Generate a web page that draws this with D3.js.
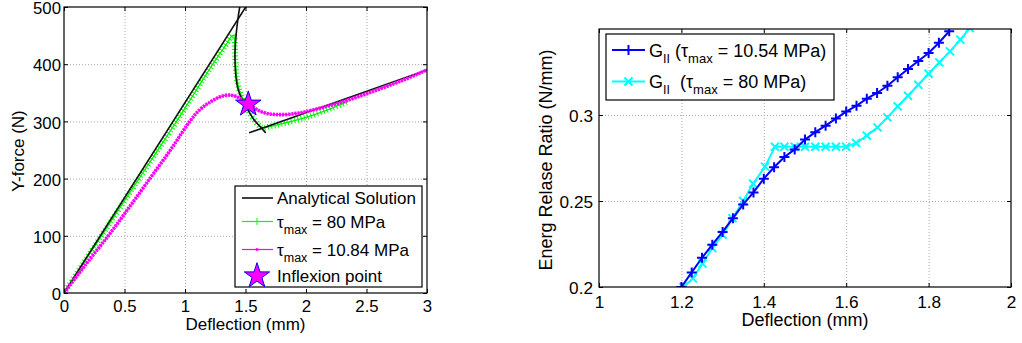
<!DOCTYPE html>
<html>
<head>
<meta charset="utf-8">
<script src="https://cdn.jsdelivr.net/npm/d3@7"></script>
<style>
  body { margin: 0; background: #fff; }
  svg { font-family: "Liberation Sans", Arial, Helvetica, sans-serif; }
  .grid line { stroke: #a8a8a8; stroke-dasharray: 1 2; }
  .grid path { display: none; }
  .ax path { display: none; }
  .ax line { stroke: #000; }
  .ax text { fill: #000; }
</style>
</head>
<body>
<svg width="1022" height="343"></svg>
<script>
// ---- left panel data: force vs deflection ----
const anaLinX = [0, 1.52];
const anaLinY = [0, 506];
const anaCurveX = [1.47, 1.452, 1.432, 1.418, 1.413, 1.414, 1.42, 1.432, 1.452, 1.48, 1.52, 1.57, 1.62, 1.667];
const anaCurveY = [520, 500, 470, 440, 420, 400, 380, 362, 348, 335, 320, 303, 291, 280];
const anaTailX = [1.53, 3.0];
const anaTailY = [280, 390];

const greenX = [0, 0.31, 0.62, 0.93, 1.23, 1.32, 1.40, 1.413, 1.427, 1.449, 1.482, 1.537, 1.606, 1.645, 1.7, 1.8, 2.0, 2.2, 2.35];
const greenY = [0, 100, 200, 300, 400, 428, 451, 419, 378, 355, 337, 314, 294, 289, 291, 296, 307, 322, 335];

const magX = [0, 0.18, 0.366, 0.54, 0.71, 0.88, 1.04, 1.12, 1.21, 1.29, 1.372, 1.45, 1.523, 1.6, 1.675, 1.76, 1.84, 1.92, 2.0, 2.2, 2.4, 2.6, 2.8, 3.0];
const magY = [0, 50, 100, 150, 200, 250, 300, 320, 334, 343, 346, 341, 331, 320, 314, 312, 312, 314, 317, 328, 341, 356, 372, 390];

const inflexion = [1.523, 330];

const leftXTicks = [0, 0.5, 1, 1.5, 2, 2.5, 3];
const leftYTicks = [0, 100, 200, 300, 400, 500];

// ---- right panel data: energy release ratio ----
const blueX = [1.2, 1.225, 1.25, 1.275, 1.3, 1.325, 1.35, 1.375, 1.4, 1.425, 1.45, 1.475, 1.5, 1.525, 1.55, 1.575, 1.6, 1.625, 1.65, 1.675, 1.7, 1.725, 1.75, 1.775, 1.8, 1.825, 1.85];
const blueY = [0.2, 0.2085, 0.217, 0.2246, 0.232, 0.240, 0.248, 0.255, 0.263, 0.2696, 0.2756, 0.280, 0.2857, 0.290, 0.2938, 0.2979, 0.302, 0.3054, 0.3095, 0.3128, 0.317, 0.322, 0.3267, 0.3314, 0.336, 0.342, 0.3487];

const cyanX = [1.205, 1.228, 1.251, 1.275, 1.3, 1.324, 1.35, 1.374, 1.403, 1.427, 1.45, 1.475, 1.5, 1.525, 1.55, 1.575, 1.6, 1.624, 1.65, 1.676, 1.7, 1.725, 1.75, 1.775, 1.8, 1.826, 1.852, 1.877, 1.9];
const cyanY = [0.2, 0.205, 0.2136, 0.2227, 0.2304, 0.240, 0.250, 0.26, 0.270, 0.2815, 0.2815, 0.2815, 0.2815, 0.2815, 0.2815, 0.2815, 0.2815, 0.2837, 0.288, 0.2928, 0.2986, 0.305, 0.3112, 0.3176, 0.324, 0.3306, 0.337, 0.3438, 0.3505];

const rightXTicks = [1, 1.2, 1.4, 1.6, 1.8, 2];
const rightYTicks = [0.2, 0.25, 0.3];

const svg = d3.select('svg');
const zip = (xs, ys) => xs.map((v, i) => [v, ys[i]]);
const fmt = d3.format('~g');

// grid + clip region for a panel
function panel(id, box, xDom, yDom, xTicks, yTicks, opts) {
  const x = d3.scaleLinear().domain(xDom).range([box.l, box.r]);
  const y = d3.scaleLinear().domain(yDom).range([box.b, box.t]);
  const w = box.r - box.l, h = box.b - box.t;

  svg.append('clipPath').attr('id', id)
    .append('rect').attr('x', box.l).attr('y', box.t).attr('width', w).attr('height', h);

  svg.append('g').attr('class', 'grid').attr('transform', `translate(0,${box.b})`)
    .call(d3.axisBottom(x).tickValues(xTicks.slice(1, -1)).tickSize(-h).tickFormat(''));
  svg.append('g').attr('class', 'grid').attr('transform', `translate(${box.l},0)`)
    .call(d3.axisLeft(y).tickValues(yTicks.filter(v => v > yDom[0] && v < yDom[1])).tickSize(-w).tickFormat(''));

  const g = svg.append('g').attr('clip-path', `url(#${id})`);
  return Object.assign({ x, y, g, box, xTicks, yTicks }, opts);
}

// box with inward ticks on all four sides (MATLAB look)
function frame(p) {
  const { x, y, box, xTicks, yTicks } = p;
  svg.append('g').attr('class', 'ax').attr('transform', `translate(0,${box.b})`)
    .call(d3.axisBottom(x).tickValues(xTicks).tickSizeInner(-4).tickSizeOuter(0).tickPadding(6).tickFormat(fmt))
    .selectAll('text').attr('font-size', p.tickFont).attr('dy', p.xDy);
  svg.append('g').attr('class', 'ax').attr('transform', `translate(0,${box.t})`)
    .call(d3.axisTop(x).tickValues(xTicks).tickSizeInner(-4).tickSizeOuter(0).tickFormat(''));
  svg.append('g').attr('class', 'ax').attr('transform', `translate(${box.l},0)`)
    .call(d3.axisLeft(y).tickValues(yTicks).tickSizeInner(-4).tickSizeOuter(0).tickPadding(p.yPad).tickFormat(fmt))
    .selectAll('text').attr('font-size', p.tickFont).attr('dy', '0.4em');
  svg.append('g').attr('class', 'ax').attr('transform', `translate(${box.r},0)`)
    .call(d3.axisRight(y).tickValues(yTicks).tickSizeInner(-4).tickSizeOuter(0).tickFormat(''));
  svg.append('rect').attr('x', box.l).attr('y', box.t)
    .attr('width', box.r - box.l).attr('height', box.b - box.t)
    .attr('fill', 'none').attr('stroke', '#000').attr('stroke-width', 1.2);
}

// ================= left panel =================
const L = panel('clipL', { l: 64, r: 427, t: 7, b: 293 }, [0, 3], [0, 500],
  leftXTicks, leftYTicks, { tickFont: 16.8, xDy: 12.5, yPad: 3 });

const lineL = d3.line().x(d => L.x(d[0])).y(d => L.y(d[1]));
const curvL = d3.line().x(d => L.x(d[0])).y(d => L.y(d[1])).curve(d3.curveCatmullRom.alpha(0.5));

// green tau_max = 80 MPa (dense + markers drawn as a cross-hatched stroke)
L.g.append('path').datum(zip(greenX, greenY)).attr('d', curvL)
  .attr('fill', 'none').attr('stroke', '#00ff00').attr('stroke-width', 6)
  .attr('stroke-dasharray', '1 2.4');
L.g.append('path').datum(zip(greenX, greenY)).attr('d', curvL)
  .attr('fill', 'none').attr('stroke', '#00ee00').attr('stroke-width', 1.2);

// analytical solution
[[anaLinX, anaLinY, lineL], [anaCurveX, anaCurveY, curvL], [anaTailX, anaTailY, lineL]].forEach(([xs, ys, gen]) => {
  L.g.append('path').datum(zip(xs, ys)).attr('d', gen)
    .attr('fill', 'none').attr('stroke', '#111').attr('stroke-width', 1.6);
});

// magenta tau_max = 10.84 MPa (dense dot markers)
L.g.append('path').datum(zip(magX, magY)).attr('d', curvL)
  .attr('fill', 'none').attr('stroke', '#ff00ff').attr('stroke-width', 1);
L.g.append('path').datum(zip(magX, magY)).attr('d', curvL)
  .attr('fill', 'none').attr('stroke', '#ff00ff').attr('stroke-width', 3.6)
  .attr('stroke-dasharray', '2.2 0.9');

const star = d3.symbol().type(d3.symbolStar).size(200);
svg.append('path').attr('d', star)
  .attr('transform', `translate(${L.x(inflexion[0])},${L.y(inflexion[1])})`)
  .attr('fill', '#ff00ff').attr('stroke', '#0000ff').attr('stroke-width', 1);

frame(L);

svg.append('text').attr('x', L.x(1.5)).attr('y', 330).attr('text-anchor', 'middle')
  .attr('font-size', 17).text('Deflection (mm)');
svg.append('text').attr('transform', 'translate(24,151) rotate(-90)').attr('text-anchor', 'middle')
  .attr('font-size', 17).text('Y-force (N)');

// left legend
const lg = svg.append('g');
lg.append('rect').attr('x', 235).attr('y', 186).attr('width', 187).attr('height', 101)
  .attr('fill', '#fff').attr('stroke', '#000').attr('stroke-width', 1.2);
const legL = [
  { y: 198, color: '#111', w: 1.6, mark: null, label: ['Analytical Solution'] },
  { y: 221.5, color: '#00ff00', w: 1.2, mark: 'plus', label: ['τ', 'max', ' = 80 MPa'] },
  { y: 249.5, color: '#ff00ff', w: 1.2, mark: 'dot', label: ['τ', 'max', ' = 10.84 MPa'] },
  { y: 276, color: null, w: 0, mark: 'star', label: ['Inflexion point'] }
];
legL.forEach(r => {
  if (r.color) lg.append('line').attr('x1', 242).attr('x2', 273).attr('y1', r.y).attr('y2', r.y)
    .attr('stroke', r.color).attr('stroke-width', r.w);
  if (r.mark === 'plus') lg.append('path').attr('d', `M257,${r.y - 3.5}V${r.y + 3.5}M253.5,${r.y}H260.5`)
    .attr('stroke', '#00ff00').attr('stroke-width', 1);
  if (r.mark === 'dot') lg.append('circle').attr('cx', 257).attr('cy', r.y).attr('r', 1.6).attr('fill', '#ff00ff');
  if (r.mark === 'star') lg.append('path').attr('d', star).attr('transform', `translate(257,${r.y})`)
    .attr('fill', '#ff00ff').attr('stroke', '#0000ff');
  const t = lg.append('text').attr('x', 277).attr('y', r.y + 6).attr('font-size', 17);
  if (r.label.length === 1) t.text(r.label[0]);
  else {
    t.append('tspan').text(r.label[0]);
    t.append('tspan').attr('dy', 6).attr('font-size', 12.5).text(r.label[1]);
    t.append('tspan').attr('dy', -6).text(r.label[2]);
  }
});

// ================= right panel =================
const R = panel('clipR', { l: 599, r: 1011, t: 29, b: 287 }, [1, 2], [0.2, 0.35],
  rightXTicks, rightYTicks, { tickFont: 17.2, xDy: 14.5, yPad: 6 });
const lineR = d3.line().x(d => R.x(d[0])).y(d => R.y(d[1]));

function series(xs, ys, color, mark) {
  const pts = zip(xs, ys);
  R.g.append('path').datum(pts).attr('d', lineR)
    .attr('fill', 'none').attr('stroke', color).attr('stroke-width', 2);
  R.g.selectAll(null).data(pts).enter().append('path')
    .attr('transform', d => `translate(${R.x(d[0])},${R.y(d[1])})`)
    .attr('d', mark === 'plus' ? 'M0,-5V5M-5,0H5' : 'M-4,-4L4,4M-4,4L4,-4')
    .attr('stroke', color).attr('stroke-width', 2);
}
series(cyanX, cyanY, '#00ffff', 'x');
series(blueX, blueY, '#0000ff', 'plus');

frame(R);

svg.append('text').attr('x', R.x(1.5)).attr('y', 326).attr('text-anchor', 'middle')
  .attr('font-size', 18).text('Deflection (mm)');
svg.append('text').attr('transform', 'translate(552,160) rotate(-90)').attr('text-anchor', 'middle')
  .attr('font-size', 18).text('Energ Relase Ratio (N/mm)');

// right legend
const rg = svg.append('g');
rg.append('rect').attr('x', 606).attr('y', 34).attr('width', 228).attr('height', 66)
  .attr('fill', '#fff').attr('stroke', '#000').attr('stroke-width', 1.2);
const legR = [
  { y: 50, color: '#0000ff', mark: 'plus', label: ['G', 'II', ' (τ', 'max', ' = 10.54 MPa)'] },
  { y: 81.5, color: '#00ffff', mark: 'x', label: ['G', 'II', '  (τ', 'max', ' = 80 MPa)'] }
];
legR.forEach(r => {
  rg.append('line').attr('x1', 612).attr('x2', 645).attr('y1', r.y).attr('y2', r.y)
    .attr('stroke', r.color).attr('stroke-width', 2);
  rg.append('path').attr('transform', `translate(628.5,${r.y})`)
    .attr('d', r.mark === 'plus' ? 'M0,-5V5M-5,0H5' : 'M-4,-4L4,4M-4,4L4,-4')
    .attr('stroke', r.color).attr('stroke-width', 2);
  const t = rg.append('text').attr('x', 649).attr('y', r.y + 6.5).attr('font-size', 18)
    .attr('xml:space', 'preserve').style('white-space', 'pre');
  t.append('tspan').text(r.label[0]);
  t.append('tspan').attr('dy', 6).attr('font-size', 12.5).text(r.label[1]);
  t.append('tspan').attr('dy', -6).text(r.label[2]);
  t.append('tspan').attr('dy', 6).attr('font-size', 13).text(r.label[3]);
  t.append('tspan').attr('dy', -6).text(r.label[4]);
});
</script>
</body>
</html>
